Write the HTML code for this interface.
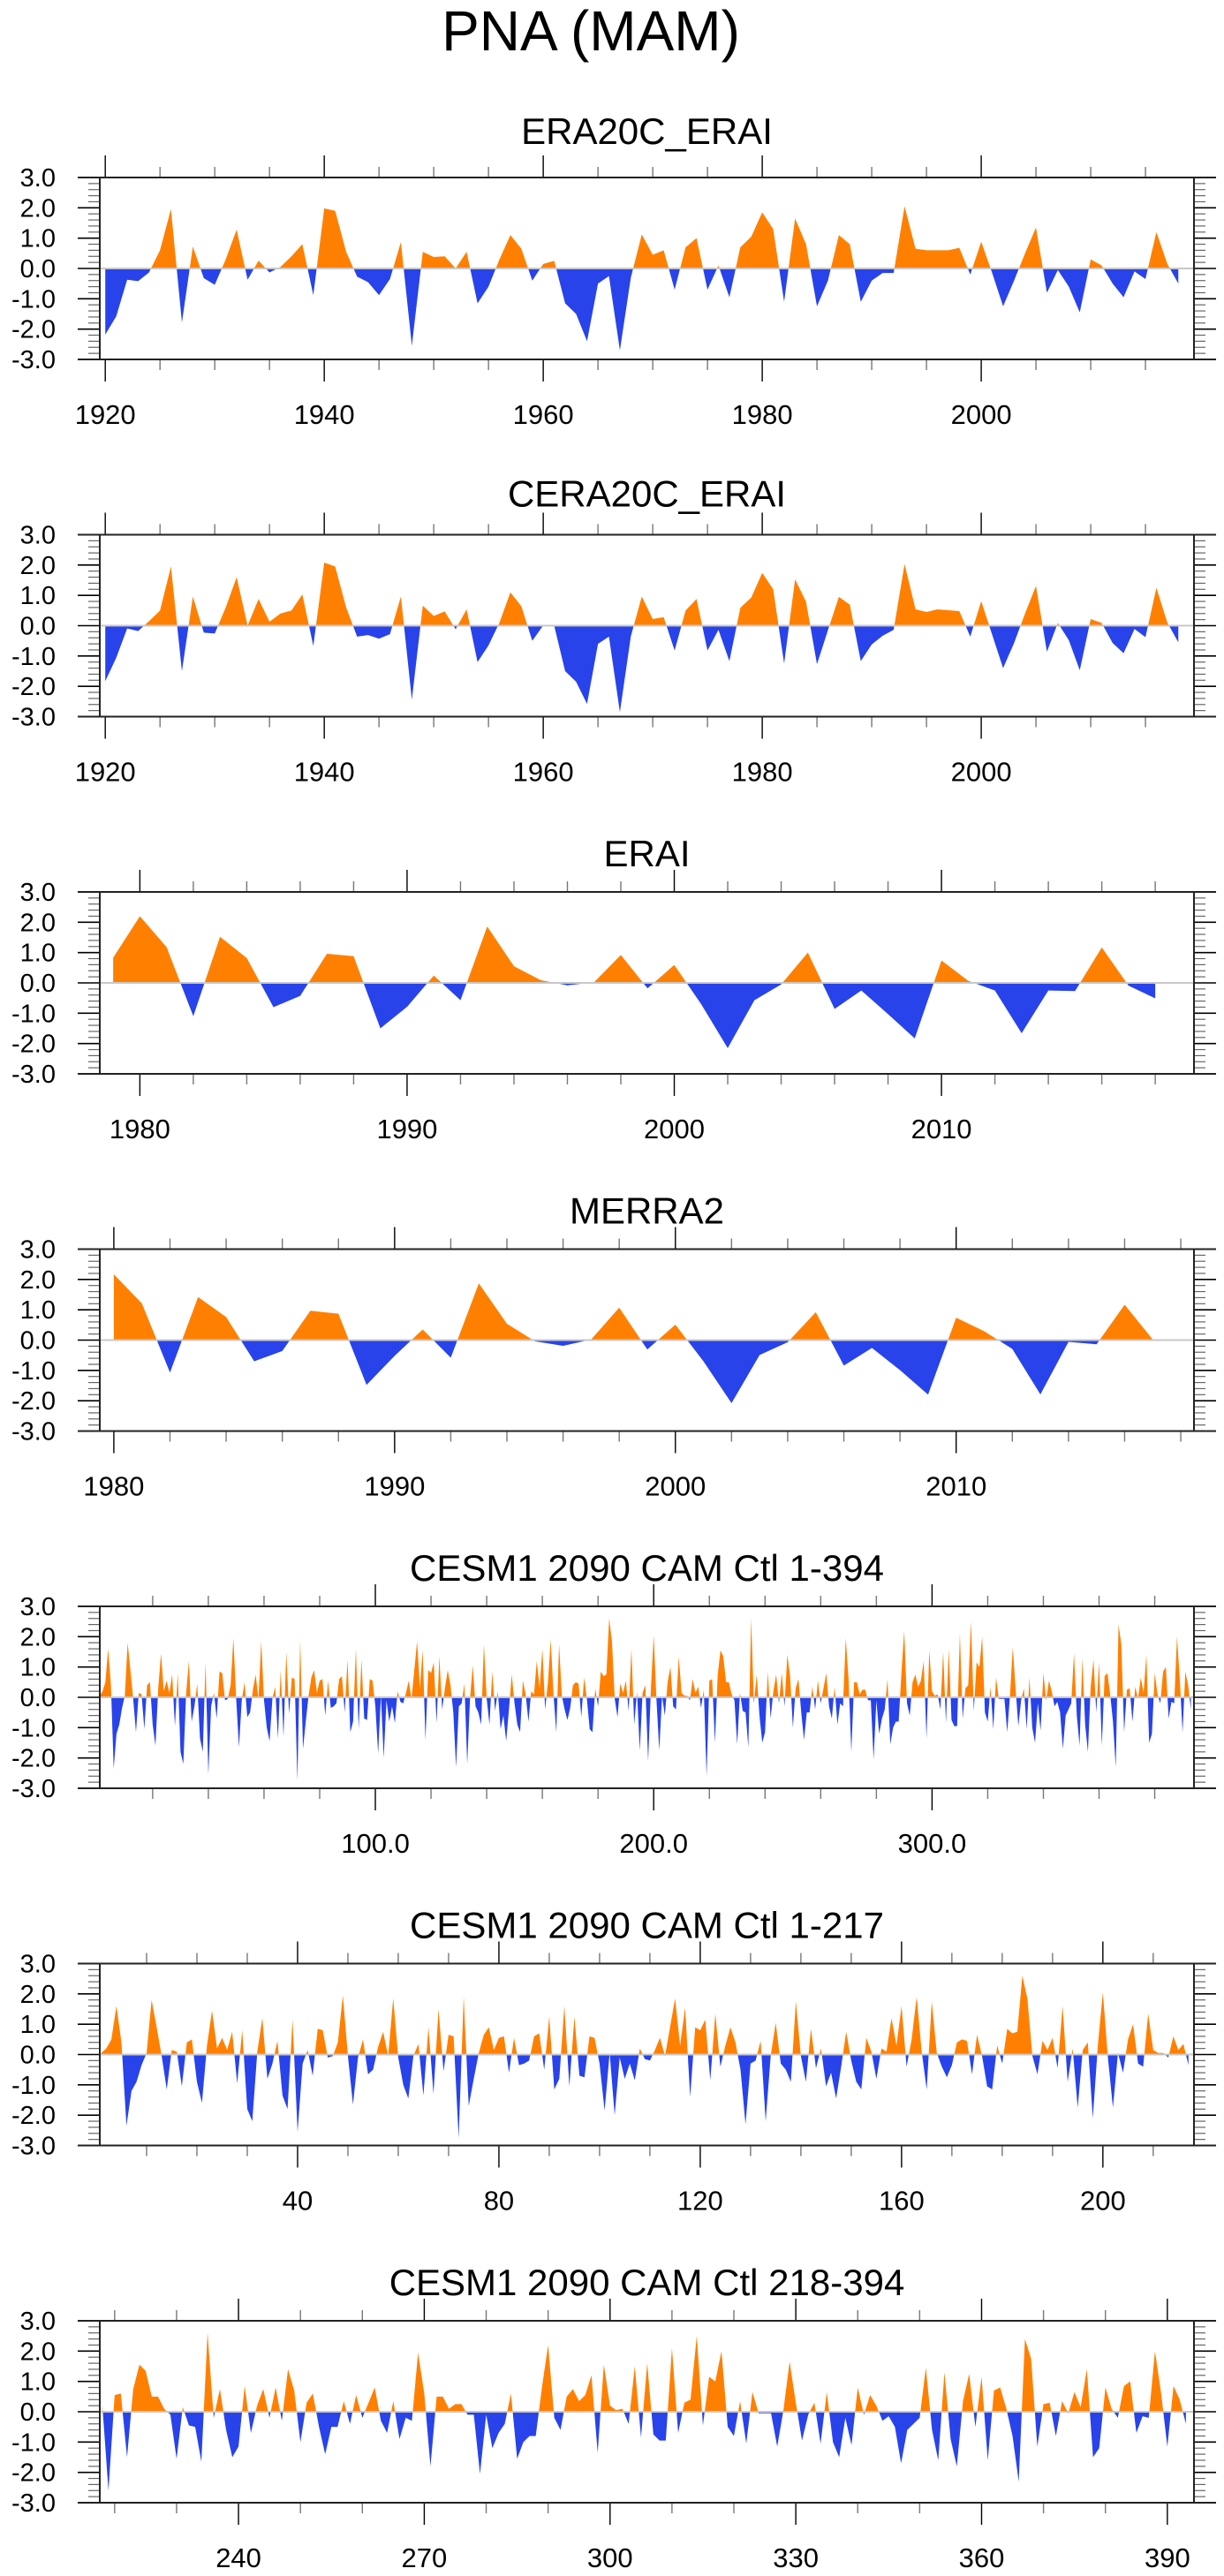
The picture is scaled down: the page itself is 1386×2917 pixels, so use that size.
<!DOCTYPE html>
<html>
<head>
<meta charset="utf-8">
<style>
html,body{margin:0;padding:0;background:#fff;}
svg{display:block;}
text{font-family:"Liberation Sans",Arial,sans-serif;fill:#000;}
</style>
</head>
<body>
<svg id="fig" width="1386" height="2917" viewBox="0 0 1386 2917" xmlns="http://www.w3.org/2000/svg">
<text x="669" y="57" font-size="64" text-anchor="middle">PNA (MAM)</text>
</svg>
<script>
// ---- data ----
const era20cYears = [1920, 2018];
const era20cValues = [-2.18,-1.58,-0.37,-0.42,-0.13,0.6,1.96,-1.78,0.72,-0.32,-0.54,0.3,1.28,-0.37,0.26,-0.13,0.05,0.4,0.8,-0.88,1.98,1.9,0.55,-0.27,-0.45,-0.88,-0.35,0.87,-2.55,0.55,0.38,0.4,0.0,0.55,-1.15,-0.6,0.3,1.1,0.65,-0.4,0.15,0.25,-1.15,-1.5,-2.4,-0.5,-0.25,-2.7,-0.3,1.12,0.45,0.6,-0.7,0.7,1.0,-0.7,0.1,-0.95,0.7,1.05,1.85,1.3,-1.1,1.65,0.8,-1.25,-0.4,1.1,0.8,-1.1,-0.4,-0.15,-0.15,2.05,0.65,0.6,0.6,0.6,0.68,-0.2,0.88,-0.15,-1.25,-0.4,0.5,1.35,-0.8,-0.05,-0.6,-1.45,0.3,0.1,-0.5,-0.95,-0.1,-0.35,1.2,0.15,-0.5];
const cera20cValues = [-1.83,-1.06,-0.09,-0.18,0.15,0.5,1.95,-1.5,0.96,-0.23,-0.26,0.6,1.6,0.0,0.88,0.13,0.4,0.5,1.03,-0.67,2.08,1.95,0.6,-0.36,-0.31,-0.43,-0.28,0.96,-2.44,0.66,0.32,0.47,-0.12,0.54,-1.2,-0.65,0.1,1.1,0.64,-0.5,0.01,0.0,-1.5,-1.85,-2.58,-0.6,-0.36,-2.85,-0.35,0.96,0.22,0.28,-0.82,0.5,0.88,-0.82,-0.14,-1.17,0.59,0.93,1.74,1.2,-1.25,1.53,0.79,-1.27,-0.15,0.95,0.69,-1.17,-0.62,-0.33,-0.14,2.03,0.54,0.45,0.54,0.51,0.48,-0.36,0.81,-0.3,-1.4,-0.57,0.4,1.31,-0.86,0.09,-0.48,-1.47,0.22,0.09,-0.57,-0.91,-0.11,-0.38,1.25,0.1,-0.55];
const eraiYears = [1979, 2018];
const eraiValues = [0.83,2.2,1.18,-1.1,1.52,0.82,-0.8,-0.43,0.96,0.88,-1.5,-0.79,0.24,-0.57,1.86,0.55,0.09,-0.08,0.02,0.92,-0.18,0.59,-0.69,-2.15,-0.57,-0.05,1.0,-0.86,-0.25,-1.03,-1.83,0.74,0.07,-0.25,-1.66,-0.25,-0.27,1.17,-0.09,-0.51];
const merra2Years = [1980, 2017];
const merra2Values = [2.17,1.21,-1.07,1.42,0.76,-0.7,-0.36,0.97,0.87,-1.48,-0.52,0.35,-0.58,1.87,0.54,-0.04,-0.19,0.02,1.07,-0.31,0.51,-0.7,-2.08,-0.49,-0.07,0.92,-0.84,-0.26,-0.99,-1.8,0.74,0.29,-0.29,-1.79,-0.06,-0.14,1.17,0.02];
// CESM1 control years 1-217
const ctlValuesA = [0.05,0.2,0.5,1.6,0.4,-2.35,-1.2,-0.9,-0.35,0.05,1.8,0.9,-0.05,-1.15,0.15,0.1,-1.05,0.4,0.5,-0.9,-1.6,0.3,1.45,0.2,0.55,0.15,0.75,-0.95,0.8,-1.8,-2.2,0.1,1.2,-0.8,-0.3,0.45,-1.35,-1.8,1.15,-2.55,-0.3,0.15,-0.7,0.85,0.8,-0.1,-0.05,0.4,1.95,-0.05,-1.65,-0.1,0.5,-0.65,-0.5,0.25,0.75,-0.05,1.85,-0.1,-1.0,-1.45,-0.05,0.35,-1.35,0.9,-1.3,1.5,-0.55,0.65,0.6,-2.75,1.9,-1.7,-0.8,0.05,0.65,0.9,0.15,0.55,0.6,-0.6,0.55,-0.35,-0.3,-0.2,0.6,0.7,-0.5,1.25,-1.15,-0.8,1.6,-1.05,1.25,-0.7,-0.75,0.6,0.55,-0.3,-1.85,0.05,-2.0,-0.1,-0.8,-0.3,-0.85,0.2,-0.15,-0.2,0.15,0.55,-0.05,0.9,1.85,0.3,1.55,-1.4,0.9,0.8,1.15,-0.85,1.35,-0.4,0.3,0.9,0.4,-0.5,-2.3,-0.3,-0.2,0.45,-2.2,-0.05,1.05,-0.3,-0.5,-0.9,1.75,-0.05,-0.9,0.85,-0.45,0.2,-1.05,-0.6,-1.45,-0.4,0.75,-0.2,-0.9,-1.15,0.55,0.1,-0.8,0.2,0.1,1.2,0.3,1.6,-0.4,0.5,1.9,0.1,-1.15,1.75,0.05,-0.4,-0.75,-0.35,0.4,0.5,0.45,-0.65,0.65,-0.05,-1.05,-1.15,0.3,-0.3,0.85,0.7,0.75,2.6,1.85,-0.05,-0.65,0.45,0.15,0.55,-0.45,1.6,-0.9,0.2,-1.75,0.15,0.4,-2.1,0.3,2.05,-0.1,-1.75,0.05,-0.6,0.5,1.0,-0.3,-0.4,1.35,0.15,0.05,0.05,-0.1,0.6,0.15,0.35,-0.35];
// CESM1 control years 218-393
const ctlValuesB = [0.25,-2.6,0.55,0.6,-1.5,0.75,1.55,1.35,0.5,0.5,0.1,-0.1,-1.55,0.15,-0.45,-0.5,-1.65,2.6,-0.2,0.75,-0.6,-1.5,-1.15,0.85,-0.7,0.2,0.75,-0.2,0.8,-0.3,1.4,0.7,-1.0,0.3,0.6,-0.5,-1.4,-0.5,-0.5,0.35,-0.4,0.55,-0.2,0.3,0.8,-0.3,-0.7,0.35,-0.9,-0.2,-0.3,1.95,0.6,-1.8,0.5,0.5,0.1,0.25,0.25,-0.1,-0.1,-2.05,-0.1,-1.2,-0.7,-0.4,0.6,-1.55,-1.0,-0.8,-0.8,0.8,2.2,-0.2,-0.6,0.5,0.75,0.35,0.55,1.2,-1.35,1.55,0.2,0.05,0.1,-0.4,1.5,-0.85,1.6,-0.75,-0.95,-0.95,2.1,-0.7,0.3,0.4,2.5,-0.45,1.15,1.0,2.0,-0.5,-0.8,0.35,-1.05,0.65,-0.05,-0.05,-0.05,-1.15,0.05,1.65,0.3,-0.95,-0.1,0.3,-1.05,0.65,-1.0,-1.5,-0.2,-1.1,0.8,-0.1,0.55,0.2,-0.3,-0.15,-0.5,-1.7,-0.6,-0.4,-0.2,1.45,-0.6,-1.6,1.3,-0.9,-1.8,0.35,1.25,-0.5,1.15,-1.6,0.7,0.8,0.1,-0.8,-2.3,2.4,1.75,-1.15,0.25,0.3,-0.8,0.35,-0.05,0.65,0.15,1.4,-1.5,-1.2,0.8,0.1,-0.2,0.85,1.0,-0.7,-0.15,-0.2,2.0,0.6,-1.15,0.85,0.4,-0.4];
const ctlStartA = 1, ctlStartB = 218;
const yTickValues = [-3,-2,-1,0,1,2,3];
const yTickLabels = ["-3.0","-2.0","-1.0","0.0","1.0","2.0","3.0"];
const yearTicks20 = [1920,1940,1960,1980,2000];
const yearTicks10a = [1980,1990,2000,2010];
const ctlTicksAll = [100,200,300];
const ctlTicksAllLabels = ["100.0","200.0","300.0"];
const ctlTicksA = [40,80,120,160,200];
const ctlTicksB = [240,270,300,330,360,390];

// ---- layout ----
const SVGNS = "http://www.w3.org/2000/svg";
const svg = document.getElementById('fig');
const L = 113, R = 1352, H = 206;
const ORANGE = "#ff8000", BLUE = "#2843ea";

function mk(tag, attrs, parent) {
  const e = document.createElementNS(SVGNS, tag);
  for (const k in attrs) e.setAttribute(k, attrs[k]);
  (parent || svg).appendChild(e);
  return e;
}

function seq(start, n) { const a = []; for (let i = 0; i < n; i++) a.push(start + i); return a; }

function panel(idx, cfg) {
  const top = cfg.top, bot = top + H;
  const g = mk('g', {});
  
  
  const xs = v => L + (v - cfg.xmin) / (cfg.xmax - cfg.xmin) * (R - L);
  const ys = v => top + (3 - v) / 6 * H;
  const y0 = ys(0);
  const t = mk('text', {x: (L + R) / 2, y: top - cfg.toff, 'font-size': 42, 'text-anchor': 'middle'}, g);
  t.textContent = cfg.title;
  
  
  const defs = mk('defs', {}, g);
  const cpA = mk('clipPath', {id: 'ca' + idx}, defs);
  mk('rect', {x: L, y: top, width: R - L, height: y0 - top}, cpA);
  const cpB = mk('clipPath', {id: 'cb' + idx}, defs);
  mk('rect', {x: L, y: y0, width: R - L, height: bot - y0}, cpB);
  let d = 'M' + xs(cfg.x[0]).toFixed(2) + ',' + y0.toFixed(2);
  for (let i = 0; i < cfg.y.length; i++) d += 'L' + xs(cfg.x[i]).toFixed(2) + ',' + ys(cfg.y[i]).toFixed(2);
  d += 'L' + xs(cfg.x[cfg.x.length - 1]).toFixed(2) + ',' + y0.toFixed(2) + 'Z';
  const pa = mk('path', {d: d, fill: ORANGE, 'clip-path': 'url(#ca' + idx + ')'}, g);
  
  
  const pb = mk('path', {d: d, fill: BLUE, 'clip-path': 'url(#cb' + idx + ')'}, g);
  
  
  const zl = mk('line', {x1: L, x2: R, y1: y0, y2: y0, stroke: '#c8c8c8', 'stroke-width': 2}, g);
  
  
  for (let v = -3; v <= 3.001; v += 0.2) {
    const yy = ys(v);
    const major = Math.abs(v - Math.round(v)) < 1e-6;
    mk('line', {x1: major ? 88 : 100, x2: L, y1: yy, y2: yy, stroke: major ? '#000' : '#666', 'stroke-width': major ? 1.6 : 1.2}, g);
    mk('line', {x1: R, x2: major ? 1377 : 1365, y1: yy, y2: yy, stroke: major ? '#000' : '#666', 'stroke-width': major ? 1.6 : 1.2}, g);
  }
  for (let i = 0; i < yTickValues.length; i++) {
    const tl = mk('text', {x: 63, y: ys(yTickValues[i]) + 10, 'font-size': 29, 'text-anchor': 'end'}, g);
    tl.textContent = yTickLabels[i];
    
    
  }
  for (let v = cfg.minorStart; v <= cfg.xmax; v += cfg.minor) {
    if (v < cfg.xmin) continue;
    const xx = xs(v);
    const major = cfg.ticks.indexOf(v) >= 0;
    const c = major ? '#000' : '#777';
    mk('line', {x1: xx, x2: xx, y1: top, y2: top - (major ? 25 : 12), stroke: c, 'stroke-width': 1.4}, g);
    mk('line', {x1: xx, x2: xx, y1: bot, y2: bot + (major ? 25 : 12), stroke: c, 'stroke-width': 1.4}, g);
  }
  for (let i = 0; i < cfg.ticks.length; i++) {
    const xl = mk('text', {x: xs(cfg.ticks[i]), y: bot + 73, 'font-size': 31, 'text-anchor': 'middle'}, g);
    xl.textContent = cfg.labels[i];
    
    
  }
  mk('line', {x1: 88, x2: 1377, y1: top, y2: top, stroke: '#222', 'stroke-width': 2}, g);
  mk('line', {x1: 88, x2: 1377, y1: bot, y2: bot, stroke: '#222', 'stroke-width': 2}, g);
  mk('line', {x1: L, x2: L, y1: top, y2: bot, stroke: '#222', 'stroke-width': 2}, g);
  mk('line', {x1: R, x2: R, y1: top, y2: bot, stroke: '#222', 'stroke-width': 2}, g);
}

const tops = [201, 605.5, 1010, 1414.5, 1819, 2223.5, 2628];
const allCtl = ctlValuesA.concat(ctlValuesB);
panel(0, {name: 'era20c-erai', title: 'ERA20C_ERAI', top: tops[0], toff: 38, xmin: 1919.5, xmax: 2019.43,
  x: seq(era20cYears[0], era20cValues.length), y: era20cValues, ticks: yearTicks20, labels: yearTicks20.map(String), minor: 5, minorStart: 1920});
panel(1, {name: 'cera20c-erai', title: 'CERA20C_ERAI', top: tops[1], toff: 32, xmin: 1919.5, xmax: 2019.43,
  x: seq(era20cYears[0], cera20cValues.length), y: cera20cValues, ticks: yearTicks20, labels: yearTicks20.map(String), minor: 5, minorStart: 1920});
panel(2, {name: 'erai', title: 'ERAI', top: tops[2], toff: 29, xmin: 1978.5, xmax: 2019.45,
  x: seq(eraiYears[0], eraiValues.length), y: eraiValues, ticks: yearTicks10a, labels: yearTicks10a.map(String), minor: 2, minorStart: 1980});
panel(3, {name: 'merra2', title: 'MERRA2', top: tops[3], toff: 29, xmin: 1979.5, xmax: 2018.47,
  x: seq(merra2Years[0], merra2Values.length), y: merra2Values, ticks: yearTicks10a, labels: yearTicks10a.map(String), minor: 2, minorStart: 1980});
panel(4, {name: 'cesm1-ctl-all', title: 'CESM1 2090 CAM Ctl 1-394', top: tops[4], toff: 29, xmin: 1, xmax: 394.1,
  x: seq(ctlStartA, allCtl.length), y: allCtl, ticks: ctlTicksAll, labels: ctlTicksAllLabels, minor: 20, minorStart: 20});
panel(5, {name: 'cesm1-ctl-1-217', title: 'CESM1 2090 CAM Ctl 1-217', top: tops[5], toff: 29, xmin: 0.7, xmax: 218.1,
  x: seq(ctlStartA, ctlValuesA.length), y: ctlValuesA, ticks: ctlTicksA, labels: ctlTicksA.map(String), minor: 10, minorStart: 10});
panel(6, {name: 'cesm1-ctl-218-394', title: 'CESM1 2090 CAM Ctl 218-394', top: tops[6], toff: 29, xmin: 217.6, xmax: 394.3,
  x: seq(ctlStartB, ctlValuesB.length), y: ctlValuesB, ticks: ctlTicksB, labels: ctlTicksB.map(String), minor: 10, minorStart: 220});
</script>
</body>
</html>
